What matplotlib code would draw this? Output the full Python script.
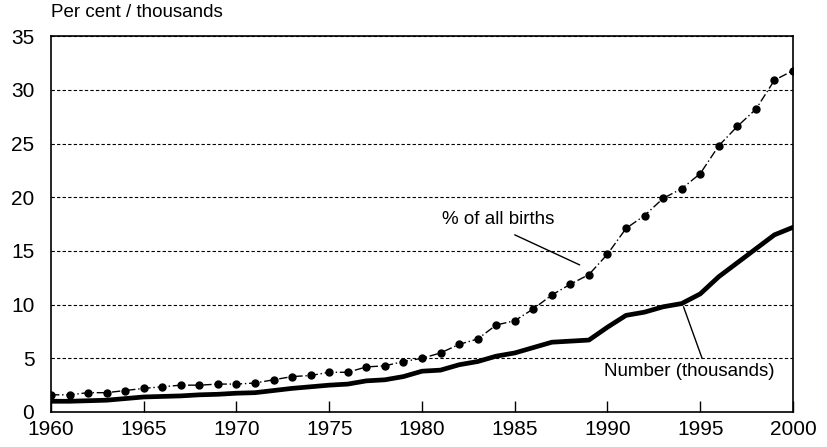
import matplotlib.pyplot as plt

plt.rcParams['font.family'] = ['Liberation Sans', 'DejaVu Sans']

years = list(range(1960, 2001))

# % of all births
pct_births = [1.6, 1.6, 1.8, 1.8, 2.0, 2.2, 2.35, 2.5, 2.5, 2.6,
              2.6, 2.7, 3.0, 3.3, 3.4, 3.7, 3.7, 4.2, 4.3, 4.7,
              5.0, 5.5, 6.3, 6.8, 8.1, 8.5, 9.6, 10.9, 11.9, 12.8,
              14.7, 17.1, 18.3, 19.9, 20.8, 22.2, 24.8, 26.6, 28.2, 30.9,
              31.8]

# number (thousands)
number_k = [1.0, 1.0, 1.05, 1.1, 1.25, 1.4, 1.45, 1.5, 1.6, 1.65,
            1.75, 1.8, 2.0, 2.2, 2.35, 2.5, 2.6, 2.9, 3.0, 3.3,
            3.8, 3.9, 4.4, 4.7, 5.2, 5.5, 6.0, 6.5, 6.6, 6.7,
            7.9, 9.0, 9.3, 9.8, 10.1, 11.0, 12.6, 13.9, 15.2, 16.5,
            17.2]

fig = plt.figure(figsize=(8.28, 4.47), dpi=100)
ax = fig.add_axes([0.0616, 0.0783, 0.8961, 0.8407])

ax.plot(years, pct_births, color='black', linestyle=(0, (6, 2, 1, 2)), linewidth=1,
        marker='o', markersize=5, zorder=3)
ax.plot(years, number_k, color='black', linewidth=3.4, solid_capstyle='round', zorder=3)

ax.set_xlim(1960, 2000)
ax.set_ylim(0, 35)
ax.set_xticks(range(1960, 2001, 5))
ax.set_yticks(range(0, 36, 5))
ax.tick_params(axis='both', labelsize=15, direction='in', length=8, width=1)
ax.tick_params(axis='y', length=0, pad=12)
ax.tick_params(axis='x', pad=6)

ax.grid(axis='y', color='black', linestyle=(0, (3, 2)), linewidth=0.8)
for s in ax.spines.values():
    s.set_linewidth(1.2)

fig.text(0.0616, 0.952, 'Per cent / thousands', fontsize=13.5, ha='left', va='bottom')

# label leader lines
ax.annotate('', xy=(1988.5, 13.7), xytext=(1985.0, 16.5),
            arrowprops=dict(arrowstyle='-', color='black', linewidth=1,
                            shrinkA=0, shrinkB=0))
ax.text(1984.1, 17.9, '% of all births', fontsize=13.5, ha='center', va='center')
ax.annotate('', xy=(1994.1, 9.8), xytext=(1995.1, 5.0),
            arrowprops=dict(arrowstyle='-', color='black', linewidth=1,
                            shrinkA=0, shrinkB=0))
ax.text(1994.4, 3.75, 'Number (thousands)', fontsize=13.5, ha='center', va='center')

plt.savefig('out.png', dpi=100)
